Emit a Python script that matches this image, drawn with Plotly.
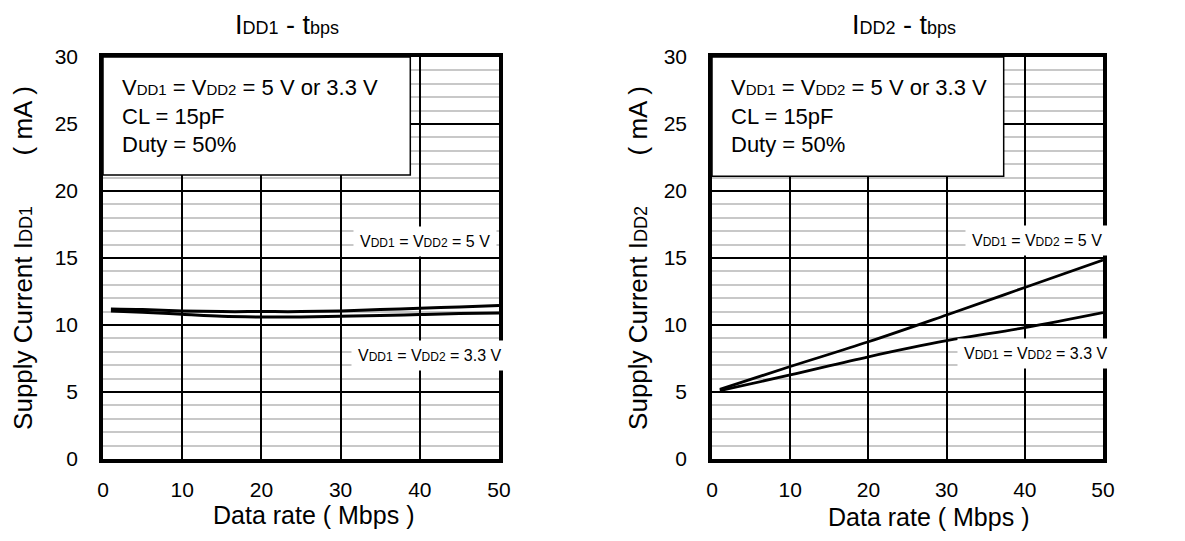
import plotly.graph_objects as go

# ---- data ----
rate_left = [1, 5, 10, 15, 20, 25, 30, 35, 40, 45, 50]
idd1_5v = [11.2, 11.15, 11.05, 11.0, 11.0, 11.0, 11.05, 11.15, 11.25, 11.35, 11.45]
idd1_33v = [11.05, 10.95, 10.8, 10.65, 10.6, 10.6, 10.65, 10.7, 10.78, 10.85, 10.9]

rate_right = [1, 10, 20, 30, 40, 50]
idd2_5v = [5.2, 6.9, 8.75, 10.75, 12.8, 14.85]
idd2_33v = [5.1, 6.27, 7.63, 8.83, 9.8, 10.92]

x_ticks = [0, 10, 20, 30, 40, 50]
y_ticks = [0, 5, 10, 15, 20, 25, 30]

FONT = "Liberation Sans, Arial, sans-serif"
OFF = 8  # default page body margin
W, H = 1185 - 2 * OFF, 541 - 2 * OFF


def px_x(p):
    return (p - OFF) / W


def px_y(p):
    return 1 - (p - OFF) / H


def sub(t, size):
    return f'<span style="font-size:{size}px">{t}</span>'


fig = go.Figure()

fig.add_trace(go.Scatter(x=rate_left, y=idd1_5v, mode="lines", line=dict(color="black", width=3, shape="spline"),
                         xaxis="x", yaxis="y", showlegend=False))
fig.add_trace(go.Scatter(x=rate_left, y=idd1_33v, mode="lines", line=dict(color="black", width=3, shape="spline"),
                         xaxis="x", yaxis="y", showlegend=False))
fig.add_trace(go.Scatter(x=rate_right, y=idd2_5v, mode="lines", line=dict(color="black", width=2.8, shape="spline"),
                         xaxis="x2", yaxis="y2", showlegend=False))
fig.add_trace(go.Scatter(x=rate_right, y=idd2_33v, mode="lines", line=dict(color="black", width=2.8, shape="spline"),
                         xaxis="x2", yaxis="y2", showlegend=False))

ydom = [px_y(459), px_y(57)]
xdom1 = [px_x(103), px_x(499)]
xdom2 = [px_x(712), px_x(1103)]


def xaxis_cfg(dom, anchor):
    return dict(domain=dom, anchor=anchor, range=[0, 50], tickvals=x_ticks, automargin=False,
                showgrid=True, gridcolor="black", gridwidth=1.5,
                showline=True, linecolor="black", linewidth=3.5, mirror=True,
                ticks="", ticklabelstandoff=9, zeroline=False,
                tickfont=dict(family=FONT, size=21, color="black"))


def yaxis_cfg(anchor, label, standoff):
    return dict(domain=ydom, anchor=anchor, range=[0, 30], tickvals=y_ticks, automargin=False,
                showgrid=True, gridcolor="black", gridwidth=1.5,
                minor=dict(dtick=1, showgrid=True, gridcolor="#c8c8c8", gridwidth=1.5),
                showline=True, linecolor="black", linewidth=3.5, mirror=True,
                ticks="", ticklabelstandoff=17, zeroline=False,
                tickfont=dict(family=FONT, size=21, color="black"),
                title=dict(text=label, standoff=standoff,
                           font=dict(family=FONT, size=26, color="black")))


nb = "\u00a0"
fig.update_layout(
    width=W, height=H,
    margin=dict(l=0, r=0, t=0, b=0, autoexpand=False),
    paper_bgcolor="white", plot_bgcolor="white",
    xaxis=xaxis_cfg(xdom1, "y"),
    yaxis=yaxis_cfg("x", "Supply Current I" + sub("DD1", 18) + nb * 7 + "( mA )", 19),
    xaxis2=xaxis_cfg(xdom2, "y2"),
    yaxis2=yaxis_cfg("x2", "Supply Current I" + sub("DD2", 18) + nb * 7 + "( mA )", 10),
)

# x axis titles
for xp, yp in [(313, 515), (928, 517)]:
    fig.add_annotation(xref="paper", yref="paper", x=px_x(xp), y=px_y(yp), showarrow=False,
                       xanchor="center", yanchor="middle", text="Data rate ( Mbps )",
                       font=dict(family=FONT, size=25, color="black"))

# condition boxes
for xr, yr, x1, y0 in [("x", "y", 38.8, 21.2), ("x2", "y2", 37.3, 21.1)]:
    fig.add_shape(type="rect", xref=xr, yref=yr, x0=0, x1=x1, y0=y0, y1=30,
                  fillcolor="white", line=dict(color="black", width=1.5), layer="above")
    fig.add_annotation(xref=xr, yref=yr, x=2.2, y=28.8, xanchor="left", yanchor="top", align="left",
                       showarrow=False,
                       text=("V" + sub("DD1", 15) + " = V" + sub("DD2", 15) + " = 5 V or 3.3 V<br>"
                             "CL = 15pF<br>Duty = 50%"),
                       font=dict(family=FONT, size=22, color="black"))

lbl5 = "V" + sub("DD1", 12) + " = V" + sub("DD2", 12) + " = 5 V"
lbl33 = "V" + sub("DD1", 12) + " = V" + sub("DD2", 12) + " = 3.3 V"
for xr, yr, x, y, t in [("x", "y", 40.6, 16.2, lbl5), ("x", "y", 41.3, 7.75, lbl33),
                        ("x2", "y2", 41.6, 16.3, lbl5), ("x2", "y2", 41.4, 7.9, lbl33)]:
    fig.add_annotation(xref=xr, yref=yr, x=x, y=y, showarrow=False, text=t,
                       bgcolor="white", borderpad=6,
                       font=dict(family=FONT, size=16, color="black"))

# titles
for xp, name in [(287, "DD1"), (904, "DD2")]:
    fig.add_annotation(xref="paper", yref="paper", x=px_x(xp), y=px_y(25), showarrow=False,
                       xanchor="center", yanchor="middle",
                       text="I" + sub(name, 18) + " - t" + sub("bps", 18),
                       font=dict(family=FONT, size=27, color="black"))

fig.write_html("out.html")
